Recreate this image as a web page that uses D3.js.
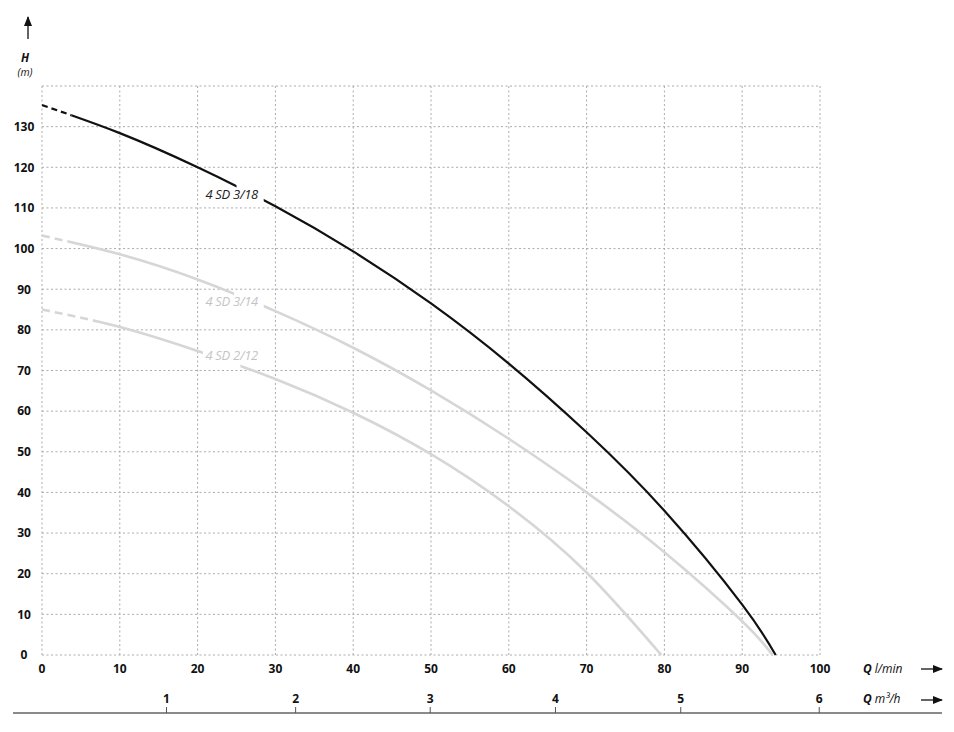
<!DOCTYPE html>
<html><head><meta charset="utf-8">
<script src="https://cdn.jsdelivr.net/npm/d3@7"></script>
<style>
html,body{margin:0;padding:0;background:#fff;}
text{font-family:"Open Sans","Noto Sans",sans-serif;}
</style></head>
<body><svg id="chart" width="954" height="732"></svg>
<script>
// ---- data ----
const xTicks = [0,10,20,30,40,50,60,70,80,90,100];
const yTicks = [0,10,20,30,40,50,60,70,80,90,100,110,120,130];
const m3hTickLabels = ["1","2","3","4","5","6"];
const m3hTickAtLmin = [16, 32.6, 49.9, 66, 82.1, 99.9];

const names = ["4 SD 3/18", "4 SD 3/14", "4 SD 2/12"];
const q318 = [0, 10, 20, 30, 40, 50, 60, 70, 80, 90, 94.3];
const h318 = [135.3, 128.4, 120.0, 110.4, 99.3, 86.5, 71.7, 54.8, 35.5, 12.4, 0];
const q314 = [0, 10, 20, 30, 40, 50, 60, 70, 80, 90, 93.9];
const h314 = [103.2, 98.6, 92.4, 84.6, 75.6, 65.1, 53.2, 40.0, 25.3, 8.3, 0];
const q212 = [0, 10, 20, 30, 40, 50, 60, 70, 79.6];
const h212 = [85, 80.7, 74.8, 67.9, 59.6, 49.4, 36.6, 20.3, 0];
const dashEnds = [3.8, 4.1, 6.8];
const gapStarts = [25, 24.7, 20.7];
const gapEnds = [28.5, 28.5, 25.5];
const labelQ = [21, 21, 21];
const labelH = [112.2, 85.8, 72.7];

// ---- chart ----
const svg = d3.select("#chart");
const x = d3.scaleLinear().domain([0,100]).range([42,820]);
const y = d3.scaleLinear().domain([0,140]).range([655,86]);

const grid = svg.append("g").attr("stroke","#ababab").attr("stroke-width",1).attr("stroke-dasharray","2,2.5");
grid.selectAll("line.v").data(xTicks).join("line")
  .attr("x1",d=>x(d)).attr("x2",d=>x(d)).attr("y1",y(140)).attr("y2",y(0));
grid.selectAll("line.h").data(yTicks.concat([140])).join("line")
  .attr("x1",x(0)).attr("x2",x(100)).attr("y1",d=>y(d)).attr("y2",d=>y(d));

// y tick labels
svg.append("g").selectAll("text").data(yTicks).join("text")
  .attr("x",24).attr("y",d=>y(d)).attr("dy","0.36em").attr("text-anchor","middle")
  .attr("font-size",12).attr("font-weight","bold").attr("fill","#111").text(d=>d);
// x tick labels (l/min)
svg.append("g").selectAll("text").data(xTicks).join("text")
  .attr("x",d=>x(d)).attr("y",673).attr("text-anchor","middle")
  .attr("font-size",12).attr("font-weight","bold").attr("fill","#111").text(d=>d);

// m3/h axis
svg.append("line").attr("x1",13).attr("x2",942).attr("y1",713).attr("y2",713)
  .attr("stroke","#8a8a8a").attr("stroke-width",2);
const mg = svg.append("g");
mg.selectAll("line").data(m3hTickAtLmin).join("line")
  .attr("x1",d=>x(d)).attr("x2",d=>x(d)).attr("y1",707).attr("y2",713)
  .attr("stroke","#555").attr("stroke-width",1);
mg.selectAll("text").data(m3hTickLabels).join("text")
  .attr("x",(d,i)=>x(m3hTickAtLmin[i])).attr("y",703).attr("text-anchor","middle")
  .attr("font-size",12).attr("font-weight","bold").attr("fill","#111").text(d=>d);

// arrow marker
const defs = svg.append("defs");
defs.append("marker").attr("id","ah").attr("viewBox","0 0 10 10").attr("refX",9).attr("refY",5)
  .attr("markerWidth",10).attr("markerHeight",10).attr("markerUnits","userSpaceOnUse").attr("orient","auto")
  .append("path").attr("d","M0,1 L10,5 L0,9 Z").attr("fill","#111");

// axis titles
function arrow(x1,y1,x2,y2){
  svg.append("line").attr("x1",x1).attr("y1",y1).attr("x2",x2).attr("y2",y2)
    .attr("stroke","#111").attr("stroke-width",1.3).attr("marker-end","url(#ah)");
}
arrow(28,39,28,17);
svg.append("text").attr("x",25).attr("y",62).attr("text-anchor","middle").attr("font-size",11.5)
  .attr("font-weight","bold").attr("font-style","italic").attr("fill","#111").text("H");
svg.append("text").attr("x",25).attr("y",76).attr("text-anchor","middle").attr("font-size",10.5)
  .attr("font-style","italic").attr("fill","#111").text("(m)");

const t1 = svg.append("text").attr("x",863).attr("y",673).attr("font-size",12).attr("font-style","italic").attr("fill","#111");
t1.append("tspan").attr("font-weight","bold").text("Q");
t1.append("tspan").attr("dx",3).text("l/min");
arrow(921,669,942,669);
const t2 = svg.append("text").attr("x",863).attr("y",703).attr("font-size",12).attr("font-style","italic").attr("fill","#111");
t2.append("tspan").attr("font-weight","bold").text("Q");
t2.append("tspan").attr("dx",3).text("m³/h");
arrow(921,700,942,700);

// curves
const series = [
  {name:names[0], q:q318, h:h318, color:"#111", lab:"#222", w:2.2, dash:"6,4"},
  {name:names[1], q:q314, h:h314, color:"#d6d6d6", lab:"#c4c4c4", w:2.6, dash:"8,5"},
  {name:names[2], q:q212, h:h212, color:"#d6d6d6", lab:"#c4c4c4", w:2.6, dash:"8,5"}
];
const line = d3.line().x(d=>x(d[0])).y(d=>y(d[1])).curve(d3.curveNatural);
series.forEach((s,i)=>{
  const pts = s.q.map((q,j)=>[q,s.h[j]]);
  const segs = [
    {a:0, b:dashEnds[i], dash:s.dash},
    {a:dashEnds[i], b:gapStarts[i], dash:null},
    {a:gapEnds[i], b:110, dash:null}
  ];
  segs.forEach((sg,k)=>{
    const id = "clip"+i+"_"+k;
    defs.append("clipPath").attr("id",id).append("rect")
      .attr("x",x(sg.a)).attr("y",0).attr("width",x(sg.b)-x(sg.a)).attr("height",732);
    svg.append("path").attr("d",line(pts)).attr("fill","none")
      .attr("stroke",s.color).attr("stroke-width",s.w)
      .attr("stroke-dasharray",sg.dash).attr("clip-path","url(#"+id+")");
  });
  svg.append("text").attr("x",x(labelQ[i])).attr("y",y(labelH[i])).attr("font-size",13)
    .attr("font-style","italic").attr("fill",s.lab).attr("letter-spacing","-0.3").text(s.name);
});
</script></body></html>
